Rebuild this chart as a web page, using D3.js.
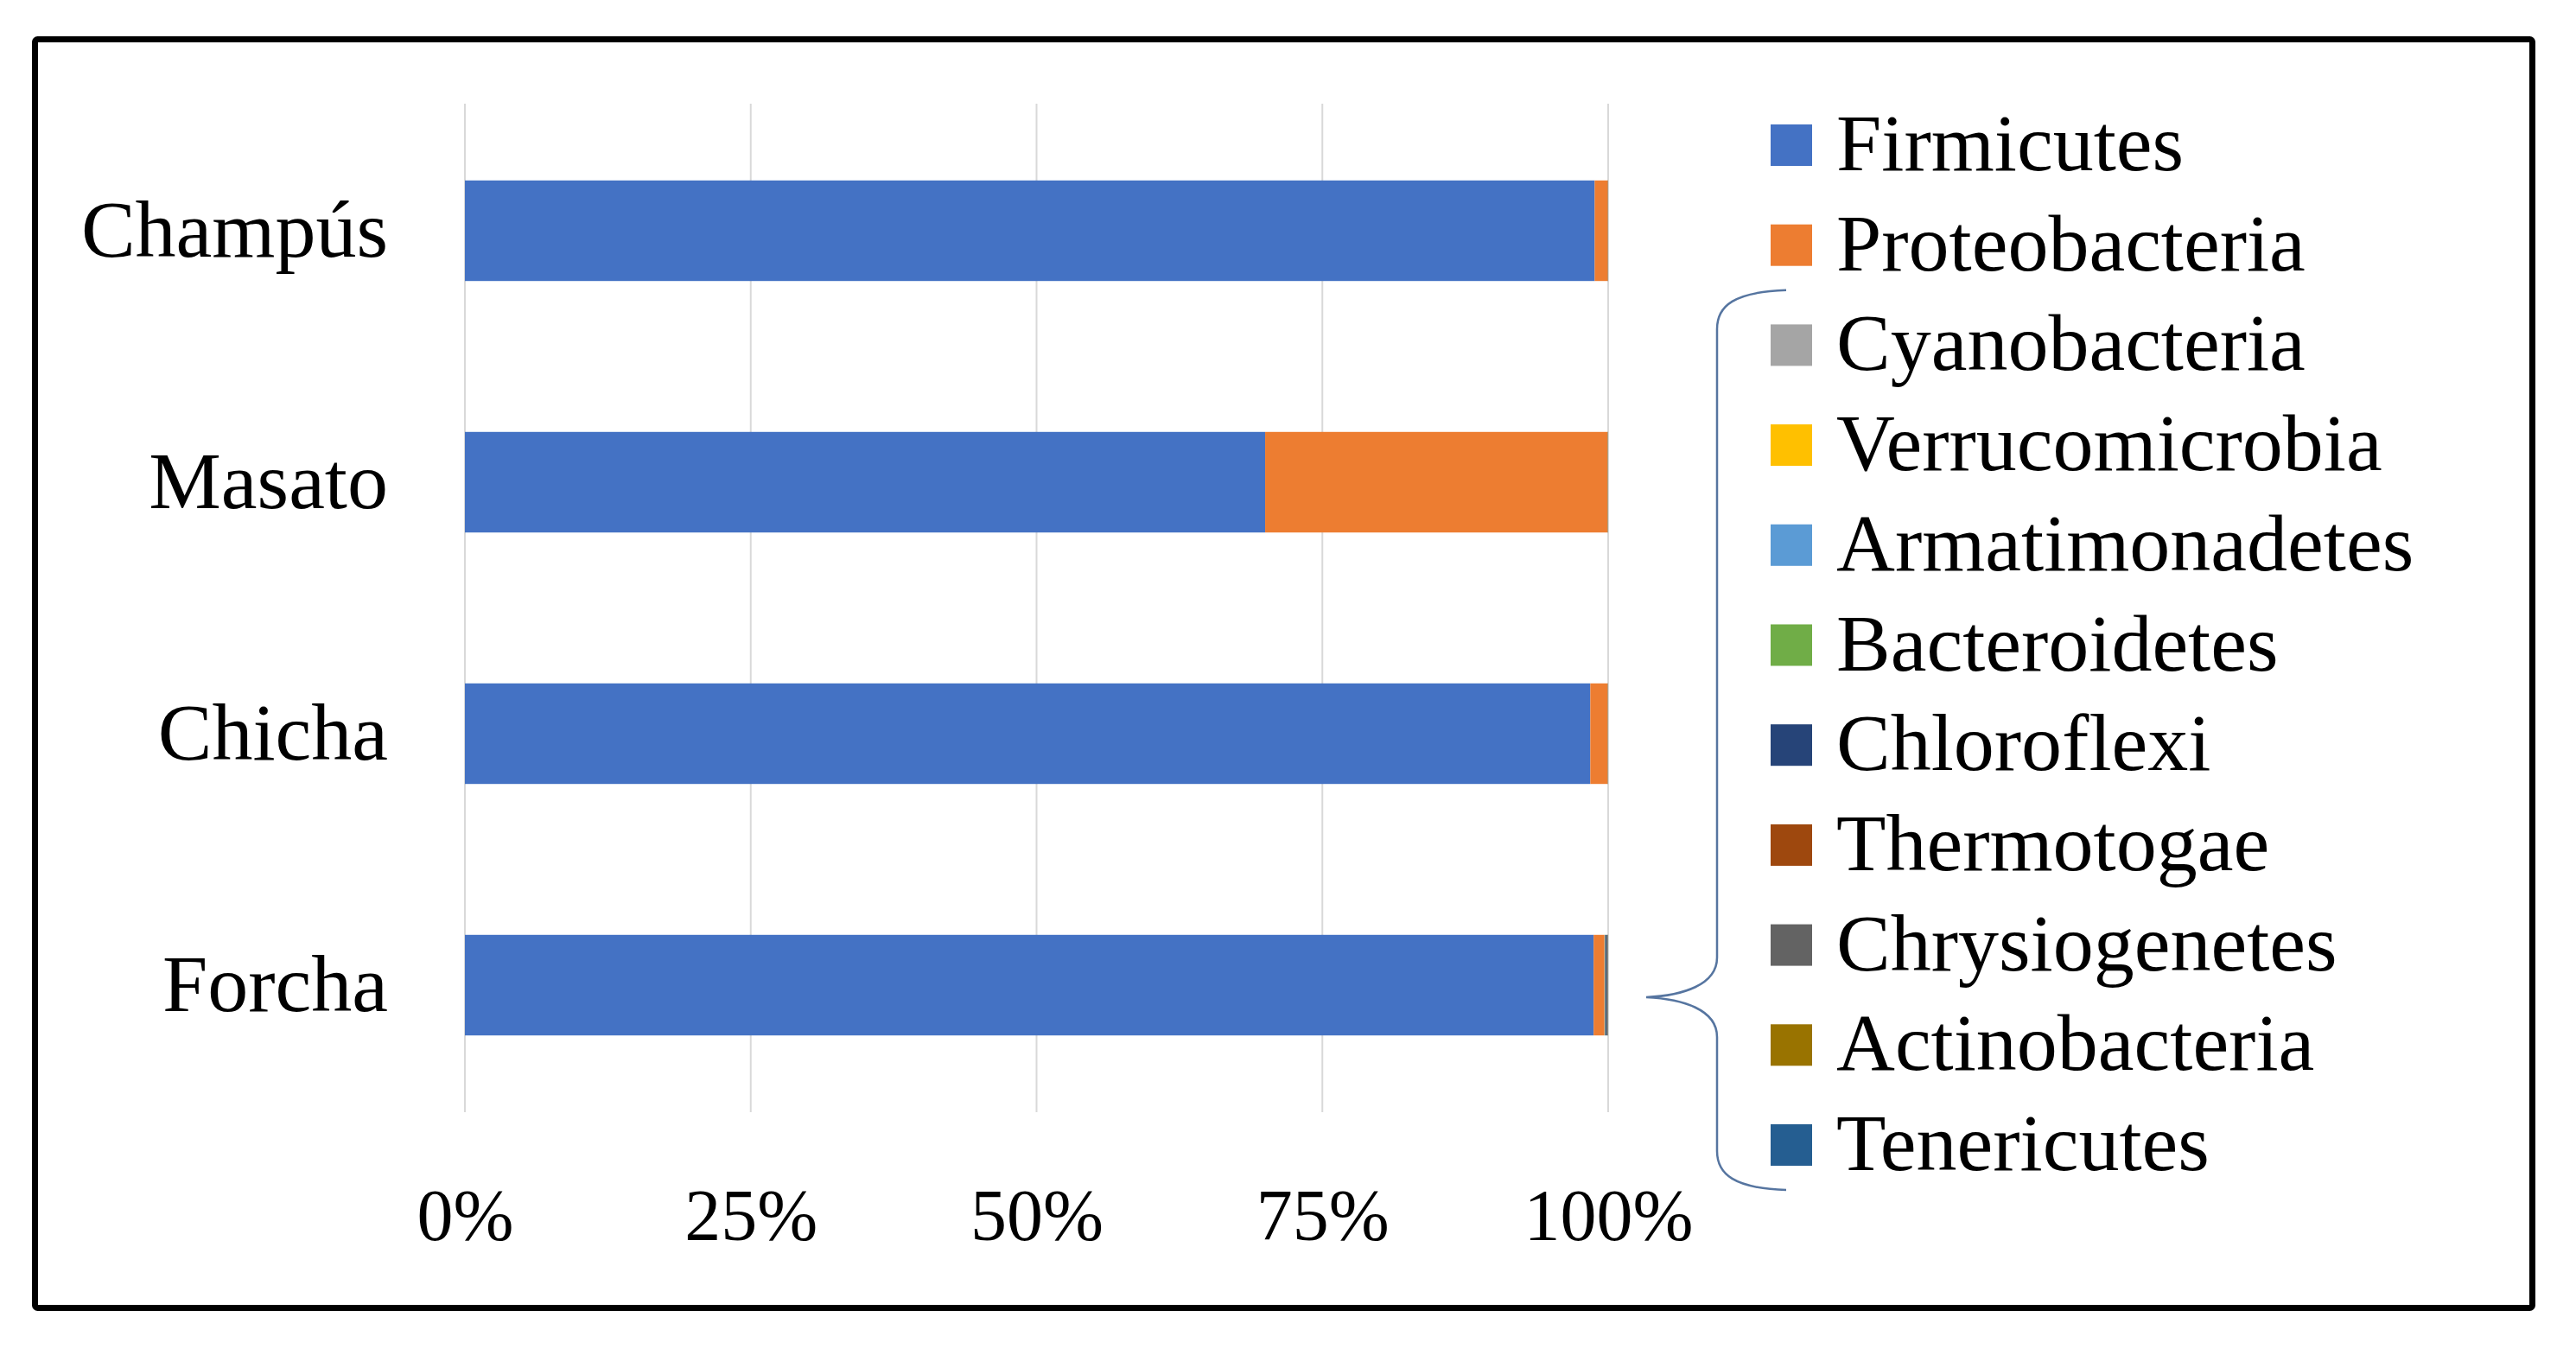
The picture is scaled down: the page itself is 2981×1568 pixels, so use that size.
<!DOCTYPE html>
<html>
<head>
<meta charset="utf-8">
<script src="https://cdn.jsdelivr.net/npm/d3@7"></script>
<style>
  html, body { margin: 0; padding: 0; background: #ffffff; }
  svg { display: block; }
  text { font-family: "Liberation Serif", "Times New Roman", serif; fill: #000; }
</style>
</head>
<body>
<svg id="chart" width="2981" height="1568"></svg>
<script>
// ---------- DATA ----------
const categories = ["Champús", "Masato", "Chicha", "Forcha"];
const phyla = ["Firmicutes", "Proteobacteria", "Cyanobacteria", "Verrucomicrobia",
  "Armatimonadetes", "Bacteroidetes", "Chloroflexi", "Thermotogae",
  "Chrysiogenetes", "Actinobacteria", "Tenericutes"];
const phylaColors = ["#4472C4", "#ED7D31", "#A5A5A5", "#FFC000", "#5B9BD5", "#70AD47",
  "#264478", "#9E480E", "#636363", "#997300", "#255E91"];

// relative abundance (%) per category, in order of `categories`
const firmicutes      = [98.82, 70.00, 98.44, 98.74];
const proteobacteria  = [1.15, 29.96, 1.52, 0.95];
const cyanobacteria   = [0.005, 0.01, 0.01, 0.02];
const verrucomicrobia = [0.002, 0.005, 0.005, 0.01];
const armatimonadetes = [0.002, 0.005, 0.005, 0.01];
const bacteroidetes   = [0.005, 0.01, 0.005, 0.03];
const chloroflexi     = [0.005, 0.005, 0.005, 0.10];
const thermotogae     = [0.002, 0.002, 0.002, 0.02];
const chrysiogenetes  = [0.002, 0.002, 0.002, 0.07];
const actinobacteria  = [0.005, 0.005, 0.005, 0.03];
const tenericutes     = [0.002, 0.002, 0.002, 0.03];

const seriesValues = [firmicutes, proteobacteria, cyanobacteria, verrucomicrobia,
  armatimonadetes, bacteroidetes, chloroflexi, thermotogae, chrysiogenetes,
  actinobacteria, tenericutes];

const tickValues = [0, 0.25, 0.5, 0.75, 1];
const tickLabels = ["0%", "25%", "50%", "75%", "100%"];

// ---------- BUILD TABLE ----------
const table = categories.map((c, i) => {
  const row = { category: c };
  phyla.forEach((p, j) => { row[p] = seriesValues[j][i]; });
  return row;
});

const stack = d3.stack().keys(phyla).offset(d3.stackOffsetExpand);
const stacked = stack(table);

// ---------- LAYOUT ----------
const svg = d3.select("#chart");
const FONT = 94;
const TICK_FONT = 84;
const plotTop = 120, plotBottom = 1287;

// outer frame
svg.append("rect")
  .attr("x", 40.5).attr("y", 45.5)
  .attr("width", 2890).attr("height", 1468)
  .attr("rx", 3)
  .attr("fill", "#fff")
  .attr("stroke", "#000")
  .attr("stroke-width", 7);

const x = d3.scaleLinear().domain([0, 1]).range([538, 1861]);
const y = d3.scaleBand().domain(categories).range([121.5, 1285.5])
  .paddingInner(0.6).paddingOuter(0.3);
const color = d3.scaleOrdinal().domain(phyla).range(phylaColors);

// gridlines
svg.append("g").selectAll("line")
  .data(tickValues)
  .join("line")
  .attr("x1", d => x(d)).attr("x2", d => x(d))
  .attr("y1", plotTop).attr("y2", plotBottom)
  .attr("stroke", "#d9d9d9")
  .attr("stroke-width", 2);

// bars
svg.append("g").selectAll("g")
  .data(stacked)
  .join("g")
  .attr("fill", d => color(d.key))
  .selectAll("rect")
  .data(d => d)
  .join("rect")
  .attr("x", d => x(d[0]))
  .attr("width", d => Math.max(0, x(d[1]) - x(d[0])))
  .attr("y", d => y(d.data.category))
  .attr("height", y.bandwidth());

// x axis
const xAxis = svg.append("g")
  .attr("transform", `translate(0,${plotBottom})`)
  .call(d3.axisBottom(x).tickValues(tickValues)
    .tickFormat((d, i) => tickLabels[i]).tickSize(0).tickPadding(0));
xAxis.select(".domain").remove();
xAxis.selectAll("text")
  .attr("y", 148).attr("dy", null)
  .style("font-family", '"Liberation Serif", serif')
  .style("font-size", TICK_FONT + "px")
  .attr("fill", "#000");

// y axis
const yAxis = svg.append("g")
  .attr("transform", `translate(${x(0)},0)`)
  .call(d3.axisLeft(y).tickSize(0).tickPadding(89));
yAxis.select(".domain").remove();
yAxis.selectAll("text")
  .attr("dy", "0.32em")
  .style("font-family", '"Liberation Serif", serif')
  .style("font-size", FONT + "px")
  .attr("fill", "#000");

// legend
const legY0 = 168, legStep = 115.7;
const legend = svg.append("g").selectAll("g")
  .data(phyla)
  .join("g")
  .attr("transform", (d, i) => `translate(2049,${legY0 + i * legStep})`);
legend.append("rect")
  .attr("x", 0).attr("y", -24)
  .attr("width", 48).attr("height", 48)
  .attr("fill", d => color(d));
legend.append("text")
  .attr("x", 76).attr("y", 29)
  .style("font-size", FONT + "px")
  .text(d => d);

// brace grouping minor phyla, pointing to Forcha bar
const bx = 1987, tipX = x(1) + 44, endX = 2067;
const topY = legY0 + 1.45 * legStep, botY = legY0 + 10.45 * legStep;
const tipY = y("Forcha") + y.bandwidth() / 2 + 14;
const brace = d3.path();
brace.moveTo(endX, topY);
brace.bezierCurveTo(bx + 20, topY + 2, bx, topY + 18, bx, topY + 45);
brace.lineTo(bx, tipY - 46);
brace.bezierCurveTo(bx, tipY - 14, bx - 40, tipY - 2, tipX, tipY);
brace.bezierCurveTo(bx - 40, tipY + 2, bx, tipY + 14, bx, tipY + 46);
brace.lineTo(bx, botY - 45);
brace.bezierCurveTo(bx, botY - 18, bx + 20, botY - 2, endX, botY);
svg.append("path")
  .attr("d", brace.toString())
  .attr("fill", "none")
  .attr("stroke", "#5675A0")
  .attr("stroke-width", 2.5);
</script>
</body>
</html>
